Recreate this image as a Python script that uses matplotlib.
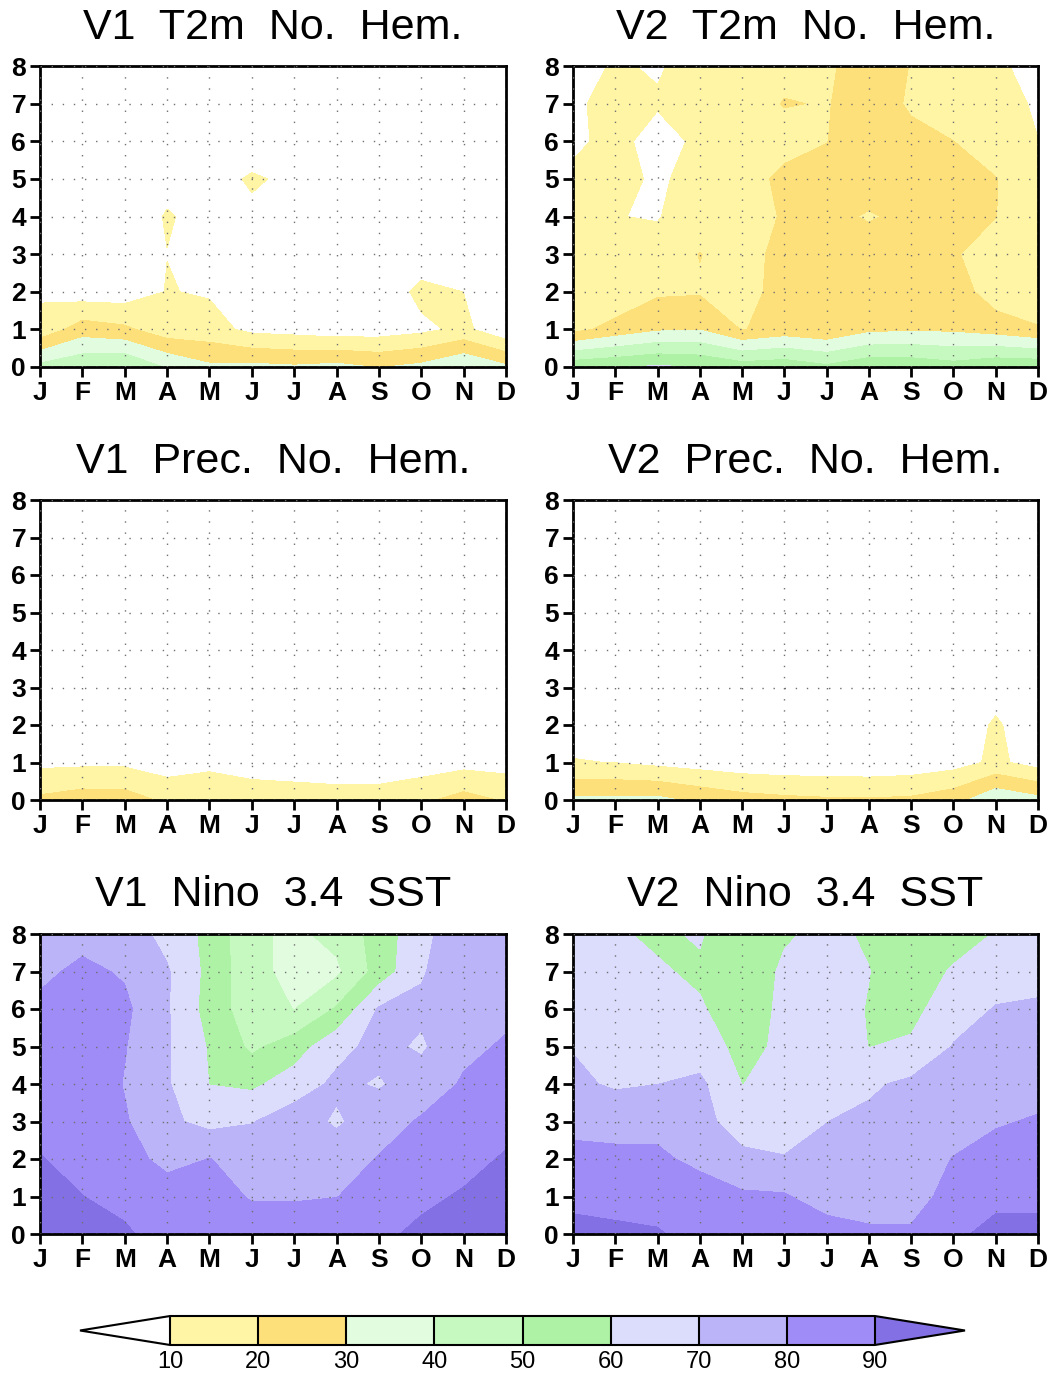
import numpy as np
import matplotlib
matplotlib.use('Agg')
import matplotlib.pyplot as plt
from matplotlib.colors import ListedColormap

months = ['J', 'F', 'M', 'A', 'M', 'J', 'J', 'A', 'S', 'O', 'N', 'D']
leads = [0, 1, 2, 3, 4, 5, 6, 7, 8]
levels = [10, 20, 30, 40, 50, 60, 70, 80, 90]
fill_colors = ['#FFF5A5', '#FEE07A', '#E2FCE0', '#C6F9C0', '#AEF3A5',
               '#DCDCFC', '#BBB4F8', '#A08CF6']
under_color = '#FFFFFF'
over_color = '#8270E4'

titles = ['V1  T2m  No.  Hem.', 'V2  T2m  No.  Hem.',
          'V1  Prec.  No.  Hem.', 'V2  Prec.  No.  Hem.',
          'V1  Nino  3.4  SST', 'V2  Nino  3.4  SST']

# rows = lead 0..8, columns = J..D
v1_t2m = [
    [43, 48, 50, 39, 31.8, 32.5, 31.25, 32.8, 29.5, 32.5, 39.5, 32],
    [13, 25, 22, 14, 13.8, 7.5, 6.25, 4.3, 5, 7.5, 12.5, 2],
    [8.7, 4.5, 4.5, 10.4, 9.05, 6, 5, 5, 2, 13, 9.9, 3],
    [7, 5, 7, 9.9, 6, 6, 5, 5, 4, 3, 6, 4],
    [6, 5, 6, 10.5, 8, 9, 6, 5, 5, 5, 5, 5],
    [6, 5, 5, 8, 8, 10.6, 9, 6, 5, 5, 5, 5],
    [5, 5, 5, 6, 5, 7, 6, 5, 5, 5, 5, 5],
    [5, 4, 5, 5, 5, 5, 5, 4, 5, 5, 4, 5],
    [4, 4, 5, 5, 4, 5, 4, 4, 4, 5, 4, 4],
]
v2_t2m = [
    [57, 59, 61.5, 59.5, 55, 56.6, 52, 57.5, 57, 54, 58, 57.6],
    [17, 23.4, 28.5, 29.5, 19.5, 23.6, 21, 27.5, 28.5, 28, 25, 21],
    [13, 12, 18.5, 19, 15, 25, 24, 26, 26, 25, 15, 12],
    [13, 13, 13, 20.3, 15, 24, 25, 28, 25, 21, 15, 13],
    [12, 10.2, 9.5, 15, 15, 21, 24, 18.5, 24, 23, 20.2, 13],
    [11, 13, 8.5, 13.5, 15, 22.7, 23, 28, 24, 23, 20.3, 12],
    [9, 11.5, 8, 11, 14, 16, 19.8, 25, 22, 20.05, 15, 10.1],
    [9, 12, 10.5, 13, 15, 20.5, 19.5, 24, 19, 15, 13, 9],
    [8, 10.5, 9.5, 12, 14, 17, 19, 23, 19.8, 15, 11, 8],
]
v1_prec = [
    [22, 25, 24.7, 18, 17, 16, 15.5, 14.5, 15, 18, 23.8, 19],
    [7.7, 8, 8, 4.7, 7.7, 5, 4, 3.5, 3, 4.7, 6.6, 6],
    [5, 5, 5, 4, 5, 4, 3, 3, 3, 4, 5, 4],
    [4, 4, 4, 4, 4, 3, 3, 3, 3, 3, 4, 4],
    [4, 4, 4, 3, 3, 3, 3, 3, 3, 3, 3, 4],
    [3, 3, 3, 3, 3, 3, 3, 3, 3, 3, 3, 3],
    [3, 3, 3, 3, 3, 3, 3, 3, 3, 3, 3, 3],
    [3, 3, 3, 3, 3, 3, 3, 3, 3, 3, 3, 3],
    [3, 3, 3, 3, 3, 3, 3, 3, 3, 3, 3, 3],
]
v2_prec = [
    [32, 32, 32.5, 27.7, 24, 22.3, 21.3, 21, 21.8, 26, 38, 33],
    [10.5, 9.8, 7.5, 5.7, 4, 3.3, 3.3, 3, 3.8, 6, 12, 6],
    [6, 5, 5, 4, 4, 3, 3, 3, 3, 5, 11, 5],
    [4, 4, 4, 4, 3, 3, 3, 3, 3, 4, 7, 4],
    [4, 4, 3, 3, 3, 3, 3, 3, 3, 3, 4, 4],
    [3, 3, 3, 3, 3, 3, 3, 3, 3, 3, 3, 3],
    [3, 3, 3, 3, 3, 3, 3, 3, 3, 3, 3, 3],
    [3, 3, 3, 3, 3, 3, 3, 3, 3, 3, 3, 3],
    [3, 3, 3, 3, 3, 3, 3, 3, 3, 3, 3, 3],
]
v1_nino = [
    [96, 94, 91, 87, 86, 86, 86, 87, 88, 92, 95, 97],
    [93, 90.1, 88, 85, 85, 79, 79, 79.8, 84, 88, 91, 94],
    [90.3, 88, 84, 77, 80.2, 77, 77, 76, 80.5, 84, 87, 91],
    [88, 87, 81, 72, 67, 69.5, 75, 68.5, 76, 81, 84, 87],
    [87, 87, 79.5, 71, 59.8, 58, 65, 72, 69, 75, 81, 84],
    [86, 86, 80.5, 71, 59, 48, 55, 67, 73, 68.5, 78, 81],
    [82, 85, 82, 71, 56, 44, 39.8, 51, 71, 72, 77, 78],
    [78, 82, 79, 71, 57, 43, 37, 38, 54, 69, 77, 79],
    [76, 77, 75, 67, 57, 42, 38, 43, 54, 67, 77, 78],
]
v2_nino_cols = {
    'J': [94.7, 86, 82, 78, 72, 69.5, 67, 65, 64],
    'F': [92, 86.5, 82, 77, 68.7, 66, 64, 62, 61],
    'M': [91, 85.5, 81.5, 77.5, 69.9, 66, 63, 61, 58.5],
    'A': [86, 84, 78, 74, 72, 65, 61, 58.5, 61],
    'May': [85, 81.5, 73, 64, 59.9, 57, 55, 54, 52],
    'Jun': [87, 81, 71, 62, 62, 62, 62, 61.5, 59],
    'Jul': [85, 75, 72, 69.9, 67, 66, 64, 63, 62],
    'Aug': [82, 74.5, 73, 72, 68.5, 59.8, 59.5, 60.2, 58.9],
    'S': [82, 74.5, 73.5, 72, 72, 61.5, 57, 55, 55],
    'O': [88, 85, 80.5, 74, 72, 70.5, 66, 61, 56],
    'N': [93, 87.5, 82, 79.5, 77, 74, 70.5, 66, 60.5],
    'D': [93, 87.5, 84, 80.5, 78, 74, 71, 67.7, 65],
}
v2_nino = np.array(list(v2_nino_cols.values())).T

fields = [v1_t2m, v2_t2m, v1_prec, v2_prec, v1_nino, v2_nino]

W, H = 1050, 1373
fig = plt.figure(figsize=(W / 100, H / 100), dpi=100)

boxes = [(40, 66, 506, 367), (573, 66, 1038, 367),
         (40, 500, 506, 800), (573, 500, 1038, 800),
         (40, 934, 506, 1234), (573, 934, 1038, 1234)]
title_y = [28, 28, 462, 462, 895, 895]

cmap = ListedColormap(fill_colors)
cmap.set_under(under_color)
cmap.set_over(over_color)

xs = np.arange(len(months))
ys = np.array(leads)

cf = None
for i, (box, data) in enumerate(zip(boxes, fields)):
    l, t, r, b = box
    ax = fig.add_axes([l / W, 1 - b / H, (r - l) / W, (b - t) / H])
    Z = np.asarray(data, dtype=float)
    cf = ax.contourf(xs, ys, Z, levels=levels, cmap=cmap, extend='both',
                     vmin=10, vmax=90)
    ax.set_xlim(0, 11)
    ax.set_ylim(0, 8)
    ax.set_xticks(xs)
    ax.set_xticklabels(months)
    ax.set_yticks(ys)
    ax.set_yticklabels([str(v) for v in leads])
    for lab in ax.get_xticklabels() + ax.get_yticklabels():
        lab.set_family('Liberation Sans')
        lab.set_fontsize(19)
        lab.set_fontweight('bold')
    ax.tick_params(direction='out', length=7, width=2, pad=3, colors='black')
    for sp in ax.spines.values():
        sp.set_linewidth(2)
    ax.grid(True, color='#707070', linestyle=(0, (1.0, 7.0)), linewidth=1.0)
    ax.set_axisbelow(False)
    fig.text(((l + r) / 2) / W, 1 - title_y[i] / H, titles[i],
             ha='center', va='center', fontsize=31, family='Liberation Sans')

cax = fig.add_axes([80 / W, 1 - 1345 / H, 885 / W, 29 / H])
cb = fig.colorbar(cf, cax=cax, orientation='horizontal', extend='both',
                  extendfrac=0.128, drawedges=True, ticks=levels)
cb.outline.set_linewidth(1.5)
cb.dividers.set_linewidth(1.5)
cb.dividers.set_color('black')
cax.tick_params(length=0, pad=4)
for lab in cax.get_xticklabels():
    lab.set_family(['Liberation Sans Narrow', 'Liberation Sans'])
    lab.set_fontsize(17)

fig.savefig('out.png', dpi=100)
